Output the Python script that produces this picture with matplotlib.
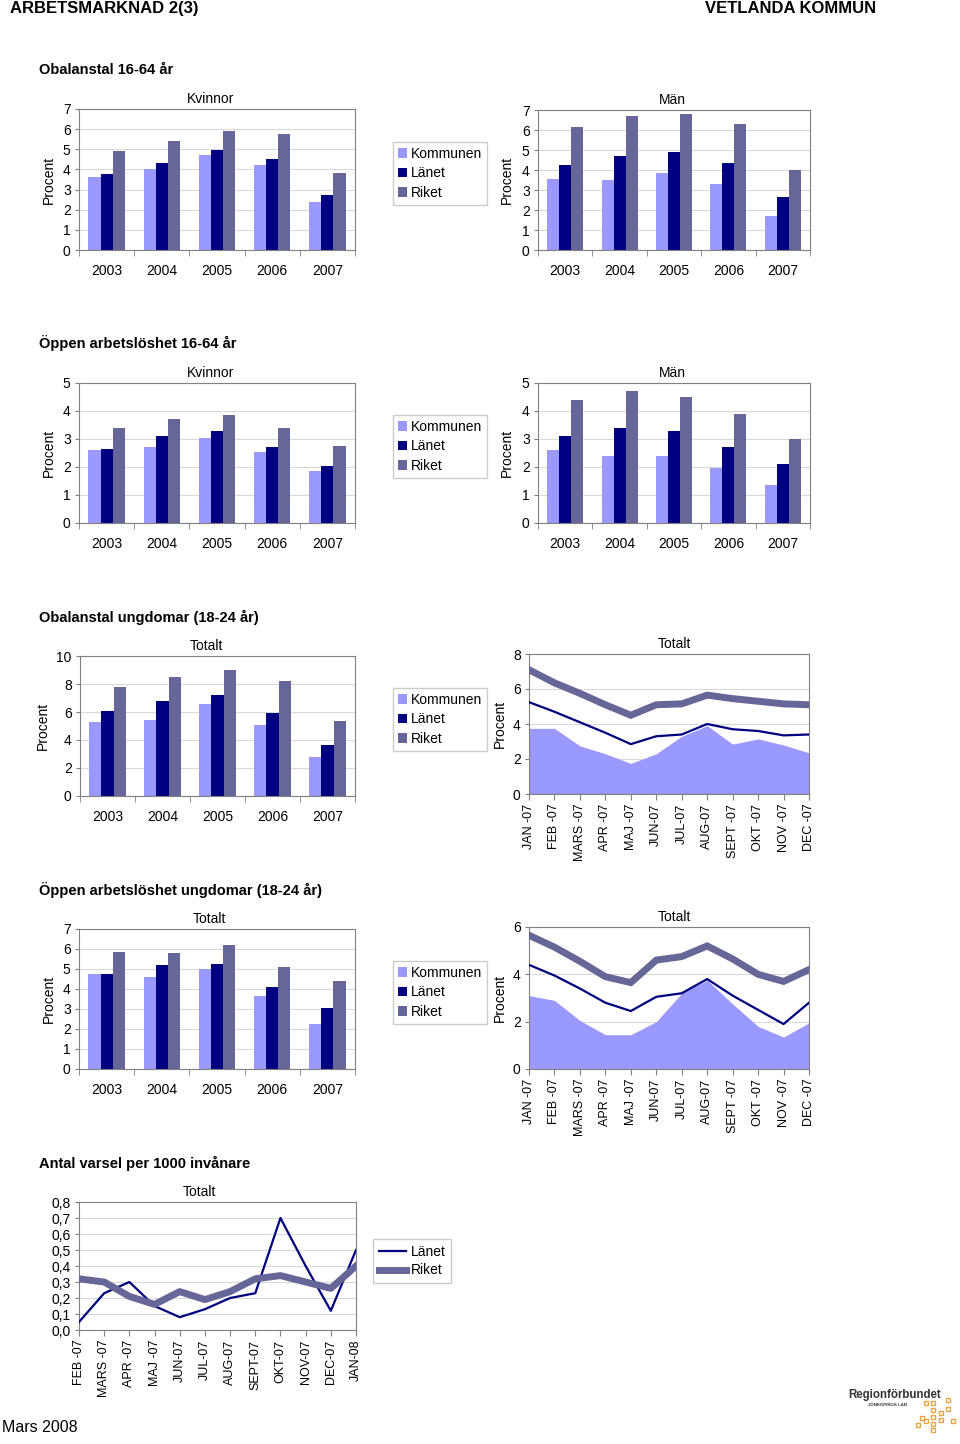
import numpy as np
import matplotlib
matplotlib.use("Agg")
import matplotlib.pyplot as plt
from matplotlib.patches import Patch
from matplotlib.lines import Line2D
from matplotlib.ticker import FuncFormatter

plt.rcParams['font.family'] = ['Liberation Sans', 'DejaVu Sans']

# ---- data ----
years = ["2003", "2004", "2005", "2006", "2007"]
series = ["Kommunen", "Länet", "Riket"]
colors = ["#9999FF", "#000080", "#666699"]

obal_kv = [[3.6, 4.0, 4.7, 4.2, 2.4], [3.75, 4.3, 4.95, 4.5, 2.75], [4.9, 5.4, 5.9, 5.75, 3.8]]
obal_man = [[3.55, 3.5, 3.85, 3.3, 1.7], [4.25, 4.7, 4.9, 4.35, 2.65], [6.15, 6.7, 6.8, 6.3, 4.0]]
oppen_kv = [[2.6, 2.7, 3.05, 2.55, 1.85], [2.65, 3.1, 3.3, 2.7, 2.05], [3.4, 3.7, 3.85, 3.4, 2.75]]
oppen_man = [[2.6, 2.4, 2.4, 1.95, 1.35], [3.1, 3.4, 3.3, 2.7, 2.1], [4.4, 4.7, 4.5, 3.9, 3.0]]
obal_ung = [[5.3, 5.4, 6.6, 5.05, 2.8], [6.1, 6.8, 7.25, 5.95, 3.65], [7.8, 8.5, 9.0, 8.2, 5.35]]
oppen_ung = [[4.75, 4.6, 5.0, 3.65, 2.25], [4.75, 5.2, 5.25, 4.1, 3.05], [5.85, 5.8, 6.2, 5.1, 4.4]]

months = ["JAN -07", "FEB -07", "MARS -07", "APR -07", "MAJ -07", "JUN-07",
          "JUL-07", "AUG-07", "SEPT -07", "OKT -07", "NOV -07", "DEC -07"]
obal_ung_kom = [3.75, 3.75, 2.75, 2.3, 1.75, 2.3, 3.3, 3.9, 2.85, 3.15, 2.8, 2.35]
obal_ung_lan = [5.25, 4.7, 4.1, 3.5, 2.85, 3.3, 3.4, 4.0, 3.7, 3.6, 3.35, 3.4]
obal_ung_rik = [7.1, 6.35, 5.75, 5.1, 4.5, 5.1, 5.15, 5.65, 5.45, 5.3, 5.15, 5.1]
oppen_ung_kom = [3.1, 2.9, 2.05, 1.45, 1.45, 2.0, 3.2, 3.75, 2.75, 1.8, 1.35, 1.95]
oppen_ung_lan = [4.4, 3.95, 3.4, 2.8, 2.45, 3.05, 3.2, 3.8, 3.1, 2.5, 1.9, 2.8]
oppen_ung_rik = [5.65, 5.15, 4.55, 3.9, 3.65, 4.6, 4.75, 5.2, 4.65, 4.0, 3.7, 4.2]

varsel_months = ["FEB -07", "MARS -07", "APR -07", "MAJ -07", "JUN-07", "JUL-07",
                 "AUG-07", "SEPT-07", "OKT-07", "NOV-07", "DEC-07", "JAN-08"]
varsel_lan = [0.05, 0.23, 0.30, 0.15, 0.08, 0.13, 0.20, 0.23, 0.70, 0.40, 0.12, 0.50]
varsel_rik = [0.32, 0.30, 0.21, 0.16, 0.24, 0.19, 0.24, 0.32, 0.34, 0.30, 0.26, 0.40]

W, H = 960, 1444
fig = plt.figure(figsize=(W / 100, H / 100), dpi=100)
GRID = "#d9d9d9"
SPINE = "#808080"
FS = 10


def px_axes(l, t, r, b):
    return fig.add_axes([l / W, 1 - b / H, (r - l) / W, (b - t) / H])


def style(ax, ymax, step):
    ax.set_ylim(0, ymax)
    ax.set_yticks(np.arange(0, ymax + step / 2, step))
    ax.yaxis.grid(True, color=GRID, lw=0.8)
    ax.set_axisbelow(True)
    for s in ax.spines.values():
        s.set_color(SPINE)
    ax.tick_params(axis="y", length=3, color=SPINE, labelsize=FS, pad=3)


def bar_chart(rect, data, title, ymax, step, ylab_x=-0.083, title_x=0.5):
    ax = px_axes(*rect)
    x = np.arange(len(years))
    w = 0.22
    for k, (vals, c) in enumerate(zip(data, colors)):
        ax.bar(x + (k - 1) * w, vals, w, color=c, zorder=2)
    ax.set_xlim(-0.5, len(years) - 0.5)
    style(ax, ymax, step)
    ax.set_xticks(x, years)
    ax.tick_params(axis="x", length=0, labelsize=FS, pad=10)
    ax.set_xticks(np.arange(-0.5, len(years)), minor=True)
    ax.tick_params(axis="x", which="minor", length=4, color=SPINE)
    ax.set_title(title, fontsize=FS, pad=4, x=title_x)
    ax.set_ylabel("Procent", fontsize=FS)
    ax.yaxis.set_label_coords(ylab_x, 0.5)
    return ax


def line_chart(rect, kom, lan, rik, ymax, step):
    ax = px_axes(*rect)
    x = np.arange(len(months))
    ax.fill_between(x, 0, kom, color=colors[0], lw=0, zorder=2)
    ax.plot(x, lan, color=colors[1], lw=1.6, zorder=3)
    ax.plot(x, rik, color=colors[2], lw=5, zorder=4, solid_joinstyle="miter")
    ax.set_xlim(0, len(months) - 1)
    style(ax, ymax, step)
    ax.set_xticks(x, months, rotation=90)
    ax.tick_params(axis="x", length=4, color=SPINE, labelsize=9, pad=3)
    ax.set_title("Totalt", fontsize=FS, pad=4, x=0.518)
    ax.set_ylabel("Procent", fontsize=FS)
    ax.yaxis.set_label_coords(-0.079, 0.5)
    return ax


def bar_legend(l, t):
    handles = [Patch(facecolor=c, edgecolor="none") for c in colors]
    fig.legend(handles, series, loc="upper left", bbox_to_anchor=(l / W, 1 - t / H),
               fontsize=FS, frameon=True, fancybox=False, edgecolor="#c0c0c0",
               handlelength=0.65, handleheight=0.65, handletextpad=0.3,
               labelspacing=0.4, borderpad=0.35, borderaxespad=0)


# header
fig.text(10 / W, 1 - 13 / H, "ARBETSMARKNAD 2(3)", fontsize=12, fontweight="bold",
         family=["Liberation Sans Narrow", "Liberation Sans"], va="baseline")
fig.text(876 / W, 1 - 13 / H, "VETLANDA KOMMUN", fontsize=12, fontweight="bold",
         family=["Liberation Sans Narrow", "Liberation Sans"], va="baseline", ha="right")

sections = [(70, "Obalanstal 16-64 år"), (343, "Öppen arbetslöshet 16-64 år"),
            (617, "Obalanstal ungdomar (18-24 år)"), (890, "Öppen arbetslöshet ungdomar (18-24 år)"),
            (1163, "Antal varsel per 1000 invånare")]
for y, s in sections:
    fig.text(39 / W, 1 - y / H, s, fontsize=10.5, fontweight="bold",
             family=["Liberation Sans Narrow", "Liberation Sans"], va="center")

# row 1
bar_chart((79, 109, 355, 250), obal_kv, "Kvinnor", 7, 1, title_x=0.475)
bar_chart((538, 110, 810, 250), obal_man, "Män", 7, 1, ylab_x=-0.088, title_x=0.493)
bar_legend(393, 142)
# row 2
bar_chart((79, 383, 355, 523), oppen_kv, "Kvinnor", 5, 1, title_x=0.475)
bar_chart((538, 383, 810, 523), oppen_man, "Män", 5, 1, ylab_x=-0.088, title_x=0.493)
bar_legend(393, 415)
# row 3
bar_chart((80, 656, 355, 796), obal_ung, "Totalt", 10, 2, ylab_x=-0.109, title_x=0.458)
line_chart((529, 654, 809, 794), obal_ung_kom, obal_ung_lan, obal_ung_rik, 8, 2)
bar_legend(393, 688)
# row 4
bar_chart((79, 929, 355, 1069), oppen_ung, "Totalt", 7, 1, title_x=0.471)
line_chart((529, 927, 809, 1069), oppen_ung_kom, oppen_ung_lan, oppen_ung_rik, 6, 2)
bar_legend(393, 961)

# varsel
ax = px_axes(79, 1202, 356, 1330)
xv = np.arange(len(varsel_months))
ax.plot(xv, varsel_lan, color=colors[1], lw=1.6, zorder=3, label="Länet")
ax.plot(xv, varsel_rik, color=colors[2], lw=5, zorder=4, label="Riket")
ax.set_xlim(0, len(varsel_months) - 1)
style(ax, 0.8, 0.1)
ax.yaxis.set_major_formatter(FuncFormatter(lambda v, _: f"{v:.1f}".replace(".", ",")))
ax.set_xticks(xv, varsel_months, rotation=90)
ax.tick_params(axis="x", length=4, color=SPINE, labelsize=9, pad=3)
ax.set_title("Totalt", fontsize=FS, pad=4, x=0.433)
handles = [Line2D([], [], color=colors[1], lw=1.6), Line2D([], [], color=colors[2], lw=5)]
fig.legend(handles, ["Länet", "Riket"], loc="upper left", bbox_to_anchor=(373 / W, 1 - 1239 / H),
           fontsize=FS, frameon=True, fancybox=False, edgecolor="#c0c0c0",
           handlelength=2.0, handletextpad=0.3, labelspacing=0.35, borderpad=0.4, borderaxespad=0)

# footer
fig.text(2 / W, 1 - 1428 / H, "Mars 2008", fontsize=11.5, va="center")
fig.text(848 / W, 1 - 1395 / H, "Regionförbundet", fontsize=8.3, fontweight="bold",
         color="#333333", family=["Liberation Sans Narrow", "Liberation Sans"], va="center")
fig.text(868 / W, 1 - 1405 / H, "JÖNKÖPINGS LÄN", fontsize=3.2, fontweight="bold",
         color="#333333", va="center")
dot_x = [926, 933, 948, 933, 922, 933, 941, 948, 918, 926, 933, 941, 953, 933]
dot_y = [1403, 1403, 1400, 1410, 1418, 1417, 1413, 1409, 1425, 1421, 1424, 1420, 1421, 1430]
fig.add_artist(Line2D([v / W for v in dot_x], [1 - v / H for v in dot_y], linestyle="none",
                      marker="s", markersize=3.2, markerfacecolor="none",
                      markeredgecolor="#e8a640", markeredgewidth=1, transform=fig.transFigure))

fig.savefig("out.png", dpi=100)
